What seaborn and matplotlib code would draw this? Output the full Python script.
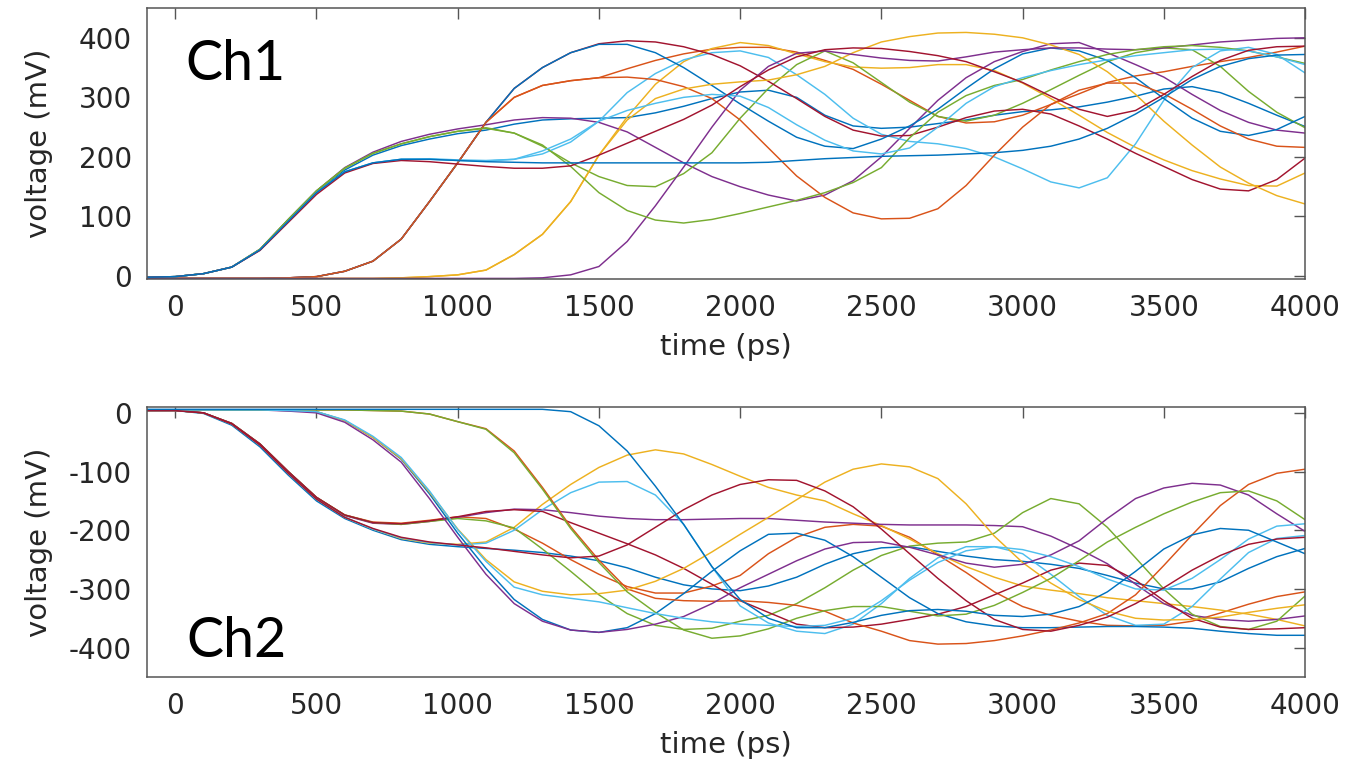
import numpy as np
import pandas as pd
import matplotlib
matplotlib.use("Agg")
import matplotlib.pyplot as plt
import seaborn as sns

# sampling grid of the traces (ps)
time_ps = list(range(-100, 4001, 100))

# MATLAB default colour order
c_blue, c_orange, c_yellow = "#0072BD", "#D95319", "#EDB120"
c_purple, c_green, c_cyan, c_red = "#7E2F8E", "#77AC30", "#4DBEEE", "#A2142F"

# ---------------- Ch1 traces (mV) ----------------
ch1_P1 = [-2,-1,4,15,45,95,143,182, 208,226,238,247,254, 262,266,265,258,242,216,190,167,
          150,136,126,136,160,200,248,295, 333,360,377,390,392,375,355,334, 305,278,258,245,240]
ch1_G1 = [-2,-1,4,15,45,95,143,181, 206,222,234,243,249, 240,218,190,167,152,150,172,207,
          265,315,355,378,358,325,292,268, 260,270,290,313,337,360,375,383, 380,352,310,275,249]
ch1_G2 = [-2,-1,4,15,45,95,143,181, 206,222,234,243,248, 240,220,184,140,110,94,89,95,
          105,116,127,140,157,182,232,275, 303,320,330,346,360,372,380,385, 387,384,378,368,357]
ch1_B1 = [-2,-1,4,15,44,93,140,178, 203,219,230,239,245, 255,262,264,265,266,274,285,298,
          309,312,300,270,252,248,250,256, 262,270,276,279,284,292,302,314, 318,308,290,270,251]
ch1_B3 = [-2,-1,4,15,44,92,140,175, 190,196,196,194,192, 191,190,190,190,190,190,190,190,
          190,191,194,197,199,201,202,203, 205,207,211,218,230,248,272,300, 330,352,365,371,372]
ch1_R2 = [-2,-1,4,15,43,90,137,173, 189,194,192,188,184, 181,181,185,203,223,243,263,287,
          318,346,368,380,383,382,377,370, 360,343,325,302,280,268,278,305, 335,362,379,385,386]
ch1_C1 = [-2,-1,4,15,44,92,140,175, 190,196,197,195,194, 196,205,225,260,308,340,363,375,
          378,367,338,305,265,238,226,222, 214,200,180,158,148,165,222,295, 350,378,384,372,341]
ch1_C2 = [-2,-1,4,15,44,92,140,175, 190,196,196,194,193, 196,210,230,260,278,290,300,305,
          302,283,254,228,210,205,215,250, 290,318,333,345,355,363,370,375, 380,381,378,368,355]
ch1_B2 = [-4,-4,-4,-4,-4,-3,-1,8, 25,62,125,190,258, 315,350,375,389,389,375,350,320,
          289,260,233,218,214,230,252,280, 315,348,373,383,378,362,333,298, 265,243,236,246,268]
ch1_R1 = [-4,-4,-4,-4,-4,-3,-1,8, 25,62,125,190,258, 315,350,375,390,395,393,385,372,
          353,327,298,268,245,235,236,250, 266,277,280,272,252,230,206,184, 162,146,143,162,198]
ch1_O1 = [-4,-4,-4,-4,-4,-3,-1,8, 25,62,125,190,258, 300,320,328,333,348,362,373,381,
          384,384,376,362,347,322,295,268, 257,259,270,288,306,325,336,343, 352,360,367,376,386]
ch1_O2 = [-4,-4,-4,-4,-4,-3,-1,8, 25,62,125,190,258, 300,320,328,333,334,330,318,298,
          262,215,168,132,106,96,97,113, 152,203,250,288,312,324,324,306, 280,252,230,218,216]
ch1_Y1 = [-4,-4,-4,-4,-4,-4,-4,-4, -4,-3,-1,2,10, 36,70,125,203,267,322,360,382,
          392,387,373,360,351,349,350,355, 355,345,324,298,270,241,216,195, 177,163,152,151,173]
ch1_Y2 = [-4,-4,-4,-4,-4,-4,-4,-4, -4,-3,-1,2,10, 36,70,125,203,262,298,314,322,
          326,329,338,352,375,393,402,408, 409,406,400,388,372,343,305,260, 220,183,156,135,121]
ch1_P2 = [-4,-4,-4,-4,-4,-4,-4,-4, -4,-4,-4,-4,-4, -4,-3,2,16,58,118,183,250,
          312,352,374,378,372,366,362,361, 368,376,380,383,383,381,380,383, 388,393,396,399,400]

ch1_names = ["B1", "O1", "Y1", "P1", "G1", "C1", "R1", "B2", "O2", "Y2", "P2", "G2", "C2", "R2", "B3"]
ch1_series = [ch1_B1, ch1_O1, ch1_Y1, ch1_P1, ch1_G1, ch1_C1, ch1_R1, ch1_B2, ch1_O2, ch1_Y2,
              ch1_P2, ch1_G2, ch1_C2, ch1_R2, ch1_B3]

# ---------------- Ch2 traces (mV) ----------------
ch2_Yh = [4,4,0,-19,-55,-103,-147,-178, -198,-214,-222,-224,-220, -195,-156,-122,-93,-72,-63,-70,-88,
          -108,-127,-140,-150,-172,-192,-215,-240, -262,-280,-295,-302,-308,-315,-320,-325, -330,-336,-343,-352,-363]
ch2_Ch = [4,4,0,-19,-55,-103,-147,-178, -198,-213,-221,-225,-222, -200,-165,-136,-118,-117,-140,-190,-262,
          -329,-358,-372,-376,-360,-325,-282,-247, -228,-228,-240,-275,-313,-345,-362,-360, -330,-283,-238,-214,-209]
ch2_Rb = [4,4,0,-19,-55,-103,-147,-178, -197,-212,-220,-225,-230, -236,-242,-247,-244,-225,-195,-165,-140,
          -122,-114,-115,-133,-160,-198,-240,-282, -320,-352,-369,-372,-362,-348,-325,-298, -268,-243,-224,-215,-212]
ch2_Be = [4,4,-1,-21,-58,-106,-150,-180, -200,-216,-224,-228,-231, -234,-238,-244,-252,-264,-280,-293,-300,
          -303,-295,-280,-258,-240,-230,-228,-236, -244,-250,-253,-258,-265,-277,-290,-300, -300,-288,-265,-245,-231]
ch2_Ra = [4,4,0,-18,-53,-100,-144,-174, -187,-189,-184,-177,-168, -165,-168,-187,-205,-223,-242,-265,-292,
          -320,-340,-360,-366,-365,-360,-352,-343, -330,-310,-290,-268,-256,-260,-285,-320, -350,-365,-369,-368,-366]
ch2_Pf = [4,4,0,-18,-53,-100,-144,-175, -188,-190,-185,-178,-170, -164,-165,-170,-176,-180,-182,-182,-181,
          -180,-180,-183,-186,-188,-190,-191,-191, -191,-192,-194,-210,-232,-257,-292,-325, -345,-352,-355,-352,-346]
ch2_Ou = [4,4,0,-18,-53,-100,-144,-174, -186,-188,-183,-177,-180, -198,-222,-250,-275,-296,-307,-307,-295,
          -277,-240,-212,-195,-190,-193,-212,-242, -272,-305,-330,-345,-355,-362,-363,-362, -355,-341,-326,-313,-305]
ch2_Gu = [4,4,0,-18,-53,-100,-144,-174, -187,-190,-185,-180,-184, -196,-232,-270,-310,-342,-362,-369,-367,
          -355,-345,-325,-298,-268,-243,-227,-222, -220,-205,-170,-146,-155,-195,-247,-300, -343,-364,-369,-355,-312]
ch2_Ym = [5,5,5,5,5,4,2,-13, -42,-78,-135,-198,-250, -288,-304,-310,-308,-302,-287,-265,-237,
          -207,-178,-148,-118,-96,-87,-92,-112, -155,-210,-255,-290,-318,-338,-350,-353, -352,-348,-340,-333,-327]
ch2_Cm = [5,5,5,5,5,4,2,-12, -40,-76,-133,-199,-253, -297,-310,-316,-322,-332,-342,-350,-356,
          -360,-362,-364,-362,-350,-320,-285,-255, -235,-228,-233,-245,-262,-283,-300,-302, -282,-250,-215,-193,-189]
ch2_Pm = [5,5,5,5,5,3,0,-16, -46,-84,-146,-212,-275, -325,-355,-370,-374,-369,-360,-347,-325,
          -298,-275,-252,-232,-221,-220,-229,-242, -256,-263,-258,-242,-218,-180,-146,-128, -120,-123,-140,-172,-202]
ch2_Bm = [5,5,5,5,5,4,2,-13, -42,-79,-138,-205,-265, -318,-352,-370,-374,-366,-342,-308,-270,
          -235,-207,-205,-217,-245,-280,-315,-342, -356,-363,-366,-366,-365,-364,-364,-365, -367,-372,-376,-379,-379]
ch2_BL = [6,6,6,6,6,6,6,6, 6,6,6,6,6, 6,6,2,-22,-65,-125,-190,-262,
          -318,-350,-366,-366,-357,-345,-337,-335, -338,-345,-347,-343,-330,-305,-270,-232, -208,-197,-200,-220,-240]
ch2_OL = [5,5,5,5,5,5,5,5, 4,3,-2,-15,-27, -65,-127,-194,-251,-300,-316,-320,-321,
          -320,-323,-328,-338,-358,-372,-388,-394, -393,-388,-380,-370,-358,-342,-310,-260, -208,-158,-122,-103,-96]
ch2_GL = [5,5,5,5,5,5,5,5, 4,3,-2,-15,-28, -68,-130,-197,-255,-305,-340,-370,-384,
          -380,-368,-350,-337,-330,-330,-338,-346, -343,-328,-306,-282,-252,-220,-195,-172, -152,-136,-133,-150,-182]

ch2_names = ["Be", "Ou", "Yh", "Pf", "Gu", "Ch", "Ra", "Bm", "OL", "Ym", "Pm", "GL", "Cm", "Rb", "BL"]
ch2_series = [ch2_Be, ch2_Ou, ch2_Yh, ch2_Pf, ch2_Gu, ch2_Ch, ch2_Ra, ch2_Bm, ch2_OL, ch2_Ym,
              ch2_Pm, ch2_GL, ch2_Cm, ch2_Rb, ch2_BL]

color_cycle = [c_blue, c_orange, c_yellow, c_purple, c_green, c_cyan, c_red]

y_ticks_ch1 = [0, 100, 200, 300, 400]
y_ticks_ch2 = [-400, -300, -200, -100, 0]
x_ticks = [0, 500, 1000, 1500, 2000, 2500, 3000, 3500, 4000]

sns.set_theme(style="white")
plt.rcParams["font.family"] = ["DejaVu Sans"]
plt.rcParams["axes.unicode_minus"] = False

fig = plt.figure(figsize=(13.5, 7.64), dpi=100)
ax1 = fig.add_axes([0.1089, 0.6348, 0.8578, 0.3547])
ax2 = fig.add_axes([0.1089, 0.1139, 0.8578, 0.3534])


def draw(ax, names, series):
    n = len(time_ps)
    df = pd.DataFrame({
        "time": np.tile(time_ps, len(names)),
        "voltage": np.concatenate([np.asarray(s, dtype=float) for s in series]),
        "curve": np.repeat(names, n),
    })
    pal = {nm: color_cycle[i % 7] for i, nm in enumerate(names)}
    sns.lineplot(data=df, x="time", y="voltage", hue="curve", hue_order=names,
                 palette=pal, estimator=None, sort=False, legend=False,
                 linewidth=1.05, ax=ax)


draw(ax1, ch1_names, ch1_series)
draw(ax2, ch2_names, ch2_series)

ax1.set_ylim(-5, 450)
ax1.set_yticks(y_ticks_ch1)
ax2.set_ylim(-450, 10)
ax2.set_yticks(y_ticks_ch2)

edge = "#555555"
txt = "#262626"
for ax in (ax1, ax2):
    ax.set_xlim(-100, 4000)
    ax.set_xticks(x_ticks)
    ax.tick_params(direction="in", length=8, width=1.0, color=edge, labelsize=20,
                   labelcolor=txt, pad=11, top=True, right=True,
                   labeltop=False, labelright=False)
    for s in ax.spines.values():
        s.set_visible(True)
        s.set_color(edge)
        s.set_linewidth(1.1)
    ax.set_xlabel("time (ps)", fontsize=21, color=txt, va="top")
    ax.set_ylabel("voltage (mV)", fontsize=21, color=txt,
                  family=["Liberation Sans Narrow", "DejaVu Sans"])
    ax.xaxis.set_label_coords(0.5, -0.2)
    ax.yaxis.set_label_coords(-0.081, 0.5)
    ax.grid(False)

ax1.text(0.033, 0.734, "Ch1", transform=ax1.transAxes, fontsize=40,
         family=["Lato", "DejaVu Sans"], color="black", va="baseline", ha="left")
ax2.text(0.034, 0.075, "Ch2", transform=ax2.transAxes, fontsize=40,
         family=["Lato", "DejaVu Sans"], color="black", va="baseline", ha="left")

fig.savefig("out.png", dpi=100)
